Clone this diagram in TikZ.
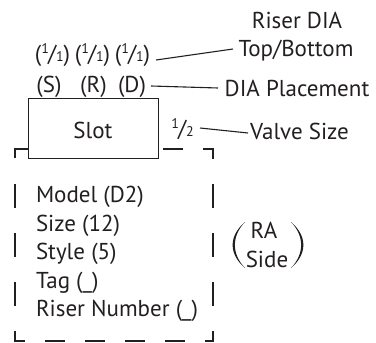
\documentclass[tikz,border=0pt]{standalone}
\usepackage{fontspec}
\setmainfont{PT Sans}
\definecolor{ink}{HTML}{231F20}
\newcommand\myfr[2]{\raisebox{0.33em}{\fontsize{14}{14}\selectfont #1}\kern-0.03em/\kern-0.01em{\fontsize{14}{14}\selectfont #2}}
\begin{document}
\begin{tikzpicture}[x=1pt,y=-1pt,
  lbl/.style={inner sep=0pt,outer sep=0pt,text=ink,font=\fontsize{23}{23}\selectfont},
  lead/.style={draw=ink,line width=1.1pt},
  dsh/.style={draw=ink,line width=1.3pt}]
\useasboundingbox (0,0) rectangle (376,343);
% dashed frame
\draw[dsh] (15,158) -- (15,149) -- (28,149);
\draw[dsh] (203,149) -- (213,149) -- (213,159);
\draw[dsh] (15,331) -- (15,341) -- (25,341);
\draw[dsh] (205,341) -- (213,341) -- (213,331);
\foreach \x in {45,85,125,165} \draw[dsh] (\x,341) -- (\x+20,341);
\draw[dsh] (163,149) -- (183,149);
\foreach \y in {184,233,282} {\draw[dsh] (15,\y) -- (15,\y+24); \draw[dsh] (213,\y) -- (213,\y+24);}
% slot box
\node[draw=ink,line width=1.2pt,fill=white,minimum width=130pt,minimum height=60pt,inner sep=0pt,anchor=north west] (slotbox) at (28,98) {};
\node[lbl,anchor=base] (slot) at (93,138) {Slot};
% top labels
\node[lbl,anchor=base] (riser) at (297,28) {Riser DIA};
\node[lbl,anchor=base] (tb) at (296,56) {Top/Bottom};
\node[lbl,anchor=base] (fs) at (52.5,61) {(\myfr11)};
\node[lbl,anchor=base] (fr) at (92.5,61) {(\myfr11)};
\node[lbl,anchor=base] (fd) at (132.5,61) {(\myfr11)};
\node[lbl,anchor=base] (ps) at (49,92) {(S)};
\node[lbl,anchor=base] (pr) at (93.5,92) {(R)};
\node[lbl,anchor=base] (pd) at (132,92) {(D)};
\node[lbl,anchor=base] (dia) at (297,96) {DIA Placement};
\node[lbl,anchor=base] (half) at (182.5,136) {\myfr12};
\node[lbl,anchor=base] (valve) at (299.5,139) {Valve Size};
\coordinate (a1) at (156,60); \coordinate (b1) at (233,49);
\coordinate (a2) at (151,86); \coordinate (b2) at (218,88);
\coordinate (a3) at (200,128); \coordinate (b3) at (248,133);
\draw[lead] (a1) -- (b1);
\draw[lead] (a2) -- (b2);
\draw[lead] (a3) -- (b3);
% list
\foreach \t [count=\i from 0] in {Model (D2),Size (12),Style (5),Tag (\_),Riser Number (\_)}
  \node[lbl,anchor=base west] (item\i) at (36,202.5+28.6*\i) {\t};
% RA side
\node[lbl,anchor=base] (ra) at (264,238) {RA};
\node[lbl,anchor=base] (side) at (267,267) {Side};
\fill[ink] (245,222) .. controls (228.5,236) and (228.5,254) .. (245,268) .. controls (231.5,254) and (231.5,236) .. cycle;
\fill[ink] (291,222) .. controls (307.5,236) and (307.5,254) .. (291,268) .. controls (304.5,254) and (304.5,236) .. cycle;
\end{tikzpicture}
\end{document}
